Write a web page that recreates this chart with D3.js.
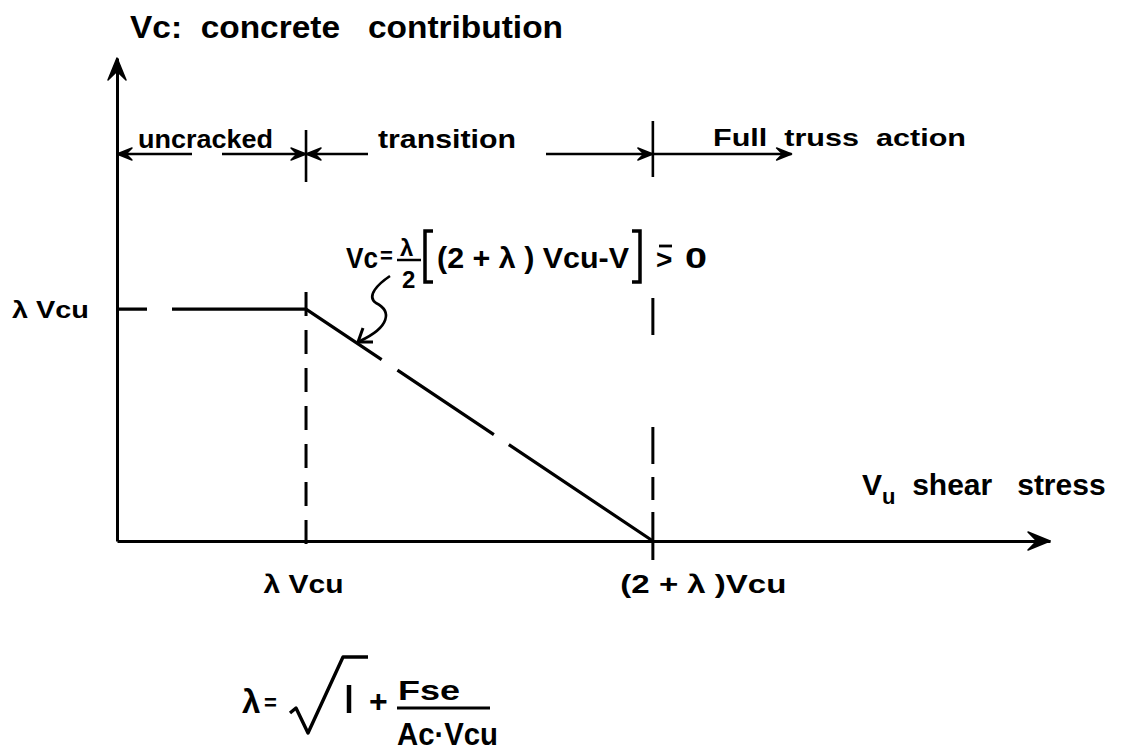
<!DOCTYPE html>
<html>
<head>
<meta charset="utf-8">
<script src="https://cdn.jsdelivr.net/npm/d3@7"></script>
<style>
  html, body { margin: 0; padding: 0; background: #fff; }
  svg { display: block; }
  text { font-family: "Liberation Sans", Arial, sans-serif; font-weight: bold; fill: #000; white-space: pre; }
</style>
</head>
<body>
<svg id="chart" width="1131" height="751"></svg>
<script>
// Shear stress in units of Vcu (lambda taken as 1.09)
const curveV  = [0, 1.09, 3.09];      // applied shear stress
const curveVc = [1.09, 1.09, 0];      // concrete contribution
const boundaries = [1.09, 3.09];      // lambda*Vcu, (2+lambda)*Vcu
const xTickLabels = ["λ Vcu", "(2 + λ )Vcu"];
const yTickValues = [1.09];
const yTickLabels = ["λ Vcu"];
const regionNames = ["uncracked", "transition", "Full  truss  action"];
const regionStart = [0, 1.09, 3.09];
const regionEnd   = [1.09, 3.09, 3.89];

const svg = d3.select("#chart");

const x = d3.scaleLinear().domain([0, 5.38]).range([117, 1050]);
const y = d3.scaleLinear().domain([0, 2.27]).range([541, 58]);

// filled barbed arrowhead, tip at (tx,ty), pointing along angle (deg)
function arrowHead(g, tx, ty, angle, len, hw) {
  g.append("path")
    .attr("d", `M0,0 L${-len},${-hw} L${-len * 0.6},0 L${-len},${hw} Z`)
    .attr("transform", `translate(${tx},${ty}) rotate(${angle})`)
    .attr("fill", "#000").attr("stroke", "#000").attr("stroke-width", 1.5)
    .attr("stroke-linejoin", "round");
}

// ---- axes ----
const xAxis = d3.axisBottom(x).tickValues(boundaries)
  .tickFormat((d, i) => xTickLabels[i]).tickSize(0).tickSizeOuter(0);
const gx = svg.append("g").attr("transform", `translate(0,${y(0)})`).call(xAxis);
gx.select(".domain").attr("stroke", "#000").attr("stroke-width", 3);
gx.selectAll(".tick text")
  .attr("dy", null).attr("y", 52)
  .attr("font-size", 25)
  .attr("text-anchor", (d, i) => i === 0 ? "middle" : "start")
  .attr("x", (d, i) => i === 0 ? -3 : -33)
  .attr("textLength", (d, i) => i === 0 ? 80 : 166)
  .attr("lengthAdjust", "spacingAndGlyphs");
gx.attr("font-family", null).attr("font-size", null);

const yAxis = d3.axisLeft(y).tickValues(yTickValues)
  .tickFormat((d, i) => yTickLabels[i]).tickSize(0).tickSizeOuter(0).tickPadding(28);
const gy = svg.append("g").attr("transform", `translate(${x(0)},0)`).call(yAxis);
gy.select(".domain").attr("stroke", "#000").attr("stroke-width", 3);
gy.selectAll(".tick text")
  .attr("dy", "0.36em").attr("font-size", 24)
  .attr("textLength", 77).attr("lengthAdjust", "spacingAndGlyphs");
gy.attr("font-family", null).attr("font-size", null);

arrowHead(svg, x(0), y(2.27), -90, 22, 9);
arrowHead(svg, x(5.38), y(0), 0, 22, 9);

// ---- axis titles ----
svg.append("text").attr("x", 130).attr("y", 38).attr("font-size", 31)
  .attr("textLength", 433).attr("lengthAdjust", "spacingAndGlyphs")
  .text("Vc:  concrete   contribution");

const vu = svg.append("text").attr("x", 862).attr("y", 495).attr("font-size", 30);
vu.append("tspan").text("V");
vu.append("tspan").attr("font-size", 22).attr("dy", 9).text("u");
vu.append("tspan").attr("dy", -9).text("  shear   stress");

// ---- response curve: plateau then linear decrease ----
const line = d3.line().x(d => x(d[0])).y(d => y(d[1]));
svg.append("path")
  .datum(curveV.map((v, i) => [v, curveVc[i]]))
  .attr("d", line)
  .attr("fill", "none").attr("stroke", "#000").attr("stroke-width", 3.2)
  .attr("stroke-dasharray", "30,25,225,19,116,18,1000");

// ---- boundary lines ----
svg.append("line")
  .attr("x1", x(boundaries[0])).attr("x2", x(boundaries[0]))
  .attr("y1", 292).attr("y2", 558)
  .attr("stroke", "#000").attr("stroke-width", 3)
  .attr("stroke-dasharray", "24,14");
svg.append("line")
  .attr("x1", x(boundaries[1])).attr("x2", x(boundaries[1]))
  .attr("y1", 298).attr("y2", 560)
  .attr("stroke", "#000").attr("stroke-width", 3)
  .attr("stroke-dasharray", "37,92,37,13,23,12,48");
// short markers on the region row
[[boundaries[0], 130, 182], [boundaries[1], 121, 177]].forEach(([b, a, c]) => {
  svg.append("line").attr("x1", x(b)).attr("x2", x(b)).attr("y1", a).attr("y2", c)
    .attr("stroke", "#000").attr("stroke-width", 2.6);
});

// ---- region labels with dimension arrows ----
const rowY = 154;
const labelX = [138, 378, 713];
const labelW = [135, 138, 253];
const gaps = [[192, 222], [368, 546], null];
regionNames.forEach((name, i) => {
  svg.append("text").attr("x", labelX[i]).attr("y", i === 2 ? 146 : 148)
    .attr("font-size", i === 2 ? 24 : 26)
    .attr("textLength", labelW[i]).attr("lengthAdjust", "spacingAndGlyphs")
    .text(name);
  const x0 = x(regionStart[i]), x1 = x(regionEnd[i]);
  if (gaps[i]) {
    svg.append("line").attr("x1", x0).attr("x2", gaps[i][0]).attr("y1", rowY).attr("y2", rowY)
      .attr("stroke", "#000").attr("stroke-width", 2.5);
    svg.append("line").attr("x1", gaps[i][1]).attr("x2", x1).attr("y1", rowY).attr("y2", rowY)
      .attr("stroke", "#000").attr("stroke-width", 2.5);
    arrowHead(svg, x0, rowY, 180, 15, 6);
  } else {
    svg.append("line").attr("x1", x0).attr("x2", x1).attr("y1", rowY).attr("y2", rowY)
      .attr("stroke", "#000").attr("stroke-width", 2.5);
  }
  arrowHead(svg, x1, rowY, 0, 15, 6);
});

// ---- transition formula ----
const fg = svg.append("g");
fg.append("text").attr("x", 346).attr("y", 268).attr("font-size", 29)
  .attr("textLength", 32).attr("lengthAdjust", "spacingAndGlyphs").text("Vc");
fg.append("text").attr("x", 380).attr("y", 263).attr("font-size", 22).text("=");
fg.append("text").attr("x", 400).attr("y", 256).attr("font-size", 24).text("λ");
fg.append("line").attr("x1", 397).attr("x2", 421).attr("y1", 260).attr("y2", 260)
  .attr("stroke", "#000").attr("stroke-width", 2.5);
fg.append("text").attr("x", 402).attr("y", 288).attr("font-size", 24).text("2");
fg.append("path").attr("d", "M433,231 H425 V282 H433")
  .attr("fill", "none").attr("stroke", "#000").attr("stroke-width", 3.5);
fg.append("text").attr("x", 437).attr("y", 268).attr("font-size", 29)
  .attr("textLength", 192).attr("lengthAdjust", "spacingAndGlyphs").text("(2 + λ ) Vcu-V");
fg.append("path").attr("d", "M632,231 H640 V282 H632")
  .attr("fill", "none").attr("stroke", "#000").attr("stroke-width", 3.5);
fg.append("text").attr("x", 656).attr("y", 269).attr("font-size", 28).text(">");
fg.append("line").attr("x1", 659).attr("x2", 672).attr("y1", 246).attr("y2", 246)
  .attr("stroke", "#000").attr("stroke-width", 2.8);
fg.append("text").attr("x", 685).attr("y", 268).attr("font-size", 29)
  .attr("textLength", 22).attr("lengthAdjust", "spacingAndGlyphs").text("0");

// leader from the formula to the sloped branch
fg.append("path").attr("d", "M390,276 C378,284 366,296 376,303 C392,311 390,327 360,341")
  .attr("fill", "none").attr("stroke", "#000").attr("stroke-width", 2.6);
fg.append("path").attr("d", "M363,328 L358,342 L373,342")
  .attr("fill", "none").attr("stroke", "#000").attr("stroke-width", 3).attr("stroke-linejoin", "round");

// ---- lambda definition ----
const lg = svg.append("g");
lg.append("text").attr("x", 242).attr("y", 713).attr("font-size", 33).text("λ");
lg.append("text").attr("x", 264).attr("y", 710).attr("font-size", 22).text("=");
lg.append("path").attr("d", "M290,713 L296,708 L308,733 L343,657 L368,657")
  .attr("fill", "none").attr("stroke", "#000").attr("stroke-width", 3.4).attr("stroke-linejoin", "round");
lg.append("line").attr("x1", 349).attr("x2", 349).attr("y1", 685).attr("y2", 713)
  .attr("stroke", "#000").attr("stroke-width", 4.5);
lg.append("text").attr("x", 369).attr("y", 712).attr("font-size", 32).text("+");
lg.append("text").attr("x", 398).attr("y", 700).attr("font-size", 28)
  .attr("textLength", 62).attr("lengthAdjust", "spacingAndGlyphs").text("Fse");
lg.append("line").attr("x1", 397).attr("x2", 490).attr("y1", 708).attr("y2", 708)
  .attr("stroke", "#000").attr("stroke-width", 3);
lg.append("text").attr("x", 397).attr("y", 745).attr("font-size", 32)
  .attr("textLength", 101).attr("lengthAdjust", "spacingAndGlyphs").text("Ac·Vcu");
</script>
</body>
</html>
